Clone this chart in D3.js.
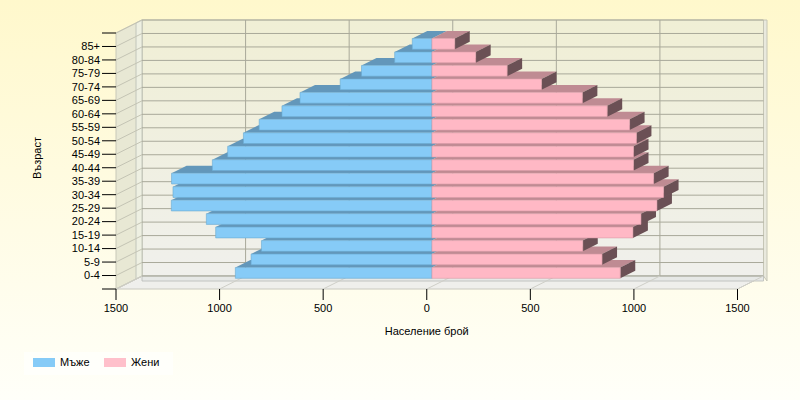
<!DOCTYPE html>
<html>
<head>
<meta charset="utf-8">
<script src="https://cdn.jsdelivr.net/npm/d3@7"></script>
<style>
  html, body { margin: 0; padding: 0; }
  body { width: 800px; height: 400px; overflow: hidden; }
  text { font-family: "Liberation Sans", Arial, sans-serif; font-size: 11px; fill: #000; }
</style>
</head>
<body>
<div id="chart"></div>
<script>
// Age groups, bottom to top
const ageGroups = ['0-4', '5-9', '10-14', '15-19', '20-24', '25-29', '30-34', '35-39', '40-44',
    '45-49', '50-54', '55-59', '60-64', '65-69', '70-74', '75-79', '80-84', '85+'];
const males   = [949, 873, 823, 1044, 1089, 1258, 1250, 1257, 1060, 986, 910, 834, 724, 637, 443, 340, 180, 95];
const females = [909, 821, 728, 970, 1009, 1086, 1118, 1070, 973, 973, 987, 954, 846, 726, 529, 363, 211, 110];
const xTicks = [-1500, -1000, -500, 0, 500, 1000, 1500];
const seriesNames = ['Мъже', 'Жени'];

const width = 800, height = 400;

const svg = d3.select('#chart').append('svg')
    .attr('width', width)
    .attr('height', height);

const defs = svg.append('defs');
const bg = defs.append('linearGradient').attr('id', 'bg').attr('x1', 0).attr('y1', 0).attr('x2', 0).attr('y2', 1);
bg.append('stop').attr('offset', '0%').attr('stop-color', '#fff8cc');
bg.append('stop').attr('offset', '100%').attr('stop-color', '#fffff9');
const wall = defs.append('linearGradient').attr('id', 'wall').attr('x1', 0).attr('y1', 0).attr('x2', 0).attr('y2', 1);
wall.append('stop').attr('offset', '0%').attr('stop-color', '#f0efd5');
wall.append('stop').attr('offset', '100%').attr('stop-color', '#f0f0ec');

svg.append('rect').attr('width', width).attr('height', height).attr('fill', 'url(#bg)');

// front plane scales + depth offset (simple oblique projection)
const xFront = d3.scaleLinear().domain([-1500, 1500]).range([116, 737.5]);
const yFront = d3.scaleLinear().domain([0, ageGroups.length + 1]).range([289, 33]);
const depthX = d3.scaleLinear().domain([0, 1]).range([0, 26]);
const depthY = d3.scaleLinear().domain([0, 1]).range([0, -13]);
const P = (v, c, z) => [xFront(v) + depthX(z), yFront(c) + depthY(z)];
const poly = pts => 'M' + pts.map(p => p.join(',')).join('L') + 'Z';

const vMin = xFront.domain()[0], vMax = xFront.domain()[1];
const cTop = ageGroups.length + 1;
const rows = d3.range(0, cTop + 1);

// Walls
const g = svg.append('g');

// back wall
g.append('path')
    .attr('d', poly([P(vMin, cTop, 1), P(vMax, cTop, 1), P(vMax, 0, 1), P(vMin, 0, 1)]))
    .attr('fill', 'url(#wall)')
    .attr('stroke', '#c9c9b6');

// back wall right edge thickness
g.append('path')
    .attr('d', poly([P(vMax, cTop, 1), [P(vMax, cTop, 1)[0] + 3.5, P(vMax, cTop, 1)[1]],
        [P(vMax, 0, 1)[0] + 3.5, P(vMax, 0, 1)[1] + 5], P(vMax, 0, 1)]))
    .attr('fill', '#e9e9dd')
    .attr('stroke', '#c6c6b6');

// floor
g.append('path')
    .attr('d', poly([P(vMin, 0, 0), P(vMax, 0, 0), P(vMax, 0, 1), P(vMin, 0, 1)]))
    .attr('fill', '#efefec')
    .attr('stroke', '#c8c8c0');

// base band along back wall bottom
g.append('path')
    .attr('d', poly([P(vMin, 0, 1), P(vMax, 0, 1), [P(vMax, 0, 1)[0], P(vMax, 0, 1)[1] + 5], [P(vMin, 0, 1)[0], P(vMin, 0, 1)[1] + 5]]))
    .attr('fill', '#e6e8e6')
    .attr('stroke', '#b8bab8')
    .attr('stroke-width', 0.8);

// left wall
g.append('path')
    .attr('d', poly([P(vMin, cTop, 0), P(vMin, cTop, 1), P(vMin, 0, 1), P(vMin, 0, 0)]))
    .attr('fill', '#e8e8d4')
    .attr('stroke', '#c8c8b8');

// left wall back edge band
g.append('path')
    .attr('d', poly([P(vMin, cTop, 0.77), P(vMin, cTop, 1), P(vMin, 0, 1), P(vMin, 0, 0.77)]))
    .attr('fill', '#eef0e2')
    .attr('stroke', '#b8bcb4')
    .attr('stroke-width', 0.8);

// gridlines: back wall horizontals + left wall diagonals
rows.forEach(c => {
    const a = P(vMin, c, 1), b = P(vMax, c, 1), f = P(vMin, c, 0);
    g.append('line').attr('x1', a[0]).attr('y1', a[1]).attr('x2', b[0]).attr('y2', b[1])
        .attr('stroke', '#a9a99a').attr('stroke-width', 1);
    g.append('line').attr('x1', f[0]).attr('y1', f[1]).attr('x2', a[0]).attr('y2', a[1])
        .attr('stroke', '#c4c4b4').attr('stroke-width', 1);
});

// gridlines: back wall verticals + floor diagonals
xTicks.forEach(v => {
    const top = P(v, cTop, 1), bot = P(v, 0, 1), fr = P(v, 0, 0);
    if (v !== vMin && v !== vMax) {
        g.append('line').attr('x1', top[0]).attr('y1', top[1]).attr('x2', bot[0]).attr('y2', bot[1])
            .attr('stroke', '#a9a99a');
    }
    g.append('line').attr('x1', fr[0]).attr('y1', fr[1]).attr('x2', bot[0]).attr('y2', bot[1])
        .attr('stroke', '#cfcfc8');
});

// Bars (bottom to top so upper bars overlap the top faces of lower ones)
const zF = 0.2, zB = 0.777, half = 0.4;
const styles = {
    male:   { front: '#86cbf7', top: '#6397ba', side: '#4d7590', stroke: '#6aa9d0' },
    female: { front: '#ffb8c5', top: '#bf8b93', side: '#6b5055', stroke: '#d99aa6' }
};

const bars = svg.append('g');

function drawBar(v0, v1, c, st, showSide) {
    const b = bars.append('g');
    b.append('path')
        .attr('d', poly([P(v0, c + half, zF), P(v1, c + half, zF), P(v1, c + half, zB), P(v0, c + half, zB)]))
        .attr('fill', st.top);
    if (showSide) {
        b.append('path')
            .attr('d', poly([P(v1, c + half, zF), P(v1, c + half, zB), P(v1, c - half, zB), P(v1, c - half, zF)]))
            .attr('fill', st.side);
    }
    b.append('path')
        .attr('d', poly([P(v0, c + half, zF), P(v1, c + half, zF), P(v1, c - half, zF), P(v0, c - half, zF)]))
        .attr('fill', st.front)
        .attr('stroke', st.stroke)
        .attr('stroke-width', 0.6);
}

ageGroups.forEach((grp, i) => {
    const c = i + 1;
    drawBar(-males[i], 0, c, styles.male, false);
    drawBar(0, females[i], c, styles.female, true);
});

// Y axis ticks and labels
const axes = svg.append('g');
rows.forEach(c => {
    const y = yFront(c);
    axes.append('line').attr('x1', xFront(vMin) - 14).attr('x2', xFront(vMin)).attr('y1', y).attr('y2', y)
        .attr('stroke', '#000');
});
ageGroups.forEach((grp, i) => {
    axes.append('text')
        .attr('x', xFront(vMin) - 16)
        .attr('y', yFront(i + 1))
        .attr('dy', '0.35em')
        .attr('text-anchor', 'end')
        .text(grp);
});

// X axis ticks and labels
xTicks.forEach(v => {
    const x = xFront(v);
    axes.append('line').attr('x1', x).attr('x2', x).attr('y1', yFront(0)).attr('y2', yFront(0) + 11)
        .attr('stroke', '#000');
    axes.append('text')
        .attr('x', x)
        .attr('y', 312)
        .attr('text-anchor', 'middle')
        .text(Math.abs(v));
});

// Axis titles
svg.append('text')
    .attr('x', xFront(0))
    .attr('y', 335)
    .attr('text-anchor', 'middle')
    .text('Население брой');

svg.append('text')
    .attr('transform', 'translate(41,158) rotate(-90)')
    .attr('text-anchor', 'middle')
    .text('Възраст');

// Legend
const legend = svg.append('g').attr('transform', 'translate(24,352)');
legend.append('rect').attr('width', 149).attr('height', 23).attr('fill', '#ffffff').attr('opacity', 0.55);
[styles.male.front, '#ffc0cb'].forEach((col, i) => {
    const item = legend.append('g').attr('transform', `translate(${9 + i * 71}, 6)`);
    item.append('rect').attr('width', 22).attr('height', 9).attr('fill', col);
    item.append('text').attr('x', 27).attr('y', 4.5).attr('dy', '0.35em').text(seriesNames[i]);
});
</script>
</body>
</html>
